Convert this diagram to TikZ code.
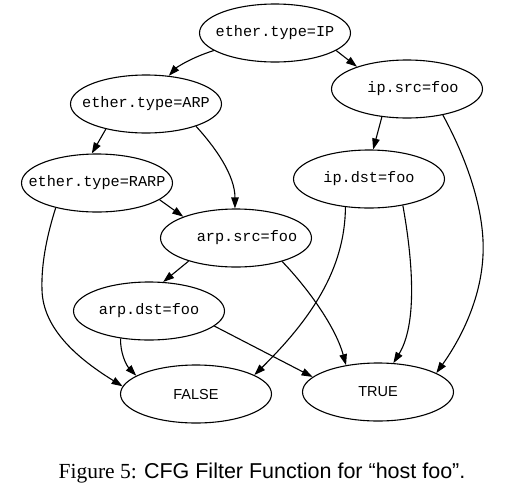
\documentclass[tikz,border=0pt]{standalone}
\usepackage{fontspec}
\setmainfont{Liberation Serif}
\setsansfont{Liberation Sans}
\setmonofont{Liberation Mono}
\usetikzlibrary{shapes.geometric,arrows.meta}
\newcommand{\zbox}[1]{\makebox[0pt]{#1}}
\begin{document}
\begin{tikzpicture}[x=1pt,y=-1pt,
  st/.style={draw,ellipse,line width=1.1pt,inner sep=0pt,minimum width=151pt,minimum height=58pt,font=\fontsize{15.2}{15}\selectfont\ttfamily},
  fin/.style={st,font=\fontsize{14.5}{14}\selectfont\sffamily},
  edge/.style={line width=1.1pt,-{Triangle[length=11pt,width=7.5pt]}}]
\useasboundingbox (0,0) rectangle (519,496);
\node[st] (ip) at (275,33) {\zbox{ether.type=IP}};
\node[st] (arp) at (146,104) {\zbox{ether.type=ARP}};
\node[st] (ipsrc) at (407,89) {\zbox{\hspace*{12pt}ip.src=foo}};
\node[st] (rarp) at (97,183) {\zbox{ether.type=RARP}};
\node[st] (ipdst) at (369,179) {\zbox{ip.dst=foo}};
\node[st] (arpsrc) at (236,238) {\zbox{\hspace*{22pt}arp.src=foo}};
\node[st] (arpdst) at (149,311) {\zbox{arp.dst=foo}};
\node[fin] (false) at (196,394) {\zbox{\raisebox{-2pt}{FALSE}}};
\node[fin] (true) at (378,392) {\zbox{\raisebox{-2pt}{TRUE}}};
\node[anchor=base] (cap) at (262,478) {\fontsize{21.5}{21.5}\selectfont Figure 5: \sffamily CFG Filter Function for “host foo”.};
% edges
\draw[edge] (ip.196) .. controls (190,58) and (176,68) .. (arp.51);
\draw[edge] (ip.344) -- (ipsrc.156);
\draw[edge] (arp.212) -- (rarp.100);
\draw[edge] (arp.336) .. controls (215,147) and (235,175) .. (arpsrc.92);
\draw[edge] (ipsrc.228) -- (ipdst.82);
\draw[edge] (ipsrc.324) .. controls (470,165) and (485,215) .. (483,255) .. controls (481,300) and (460,340) .. (true.18);
\draw[edge] (rarp.345) -- (arpsrc.158);
\draw[edge] (rarp.211) .. controls (48,232) and (41,262) .. (42,290) .. controls (43,330) and (80,360) .. (false.174);
\draw[edge] (ipdst.230) .. controls (345,270) and (310,320) .. (false.18);
\draw[edge] (ipdst.322) .. controls (410,245) and (420,320) .. (true.62);
\draw[edge] (arpsrc.206) -- (arpdst.64);
\draw[edge] (arpsrc.333) .. controls (305,285) and (335,325) .. (true.140);
\draw[edge] (arpdst.224) .. controls (120,352) and (126,365) .. (false.163);
\draw[edge] (arpdst.347) -- (true.167);
\end{tikzpicture}
\end{document}
